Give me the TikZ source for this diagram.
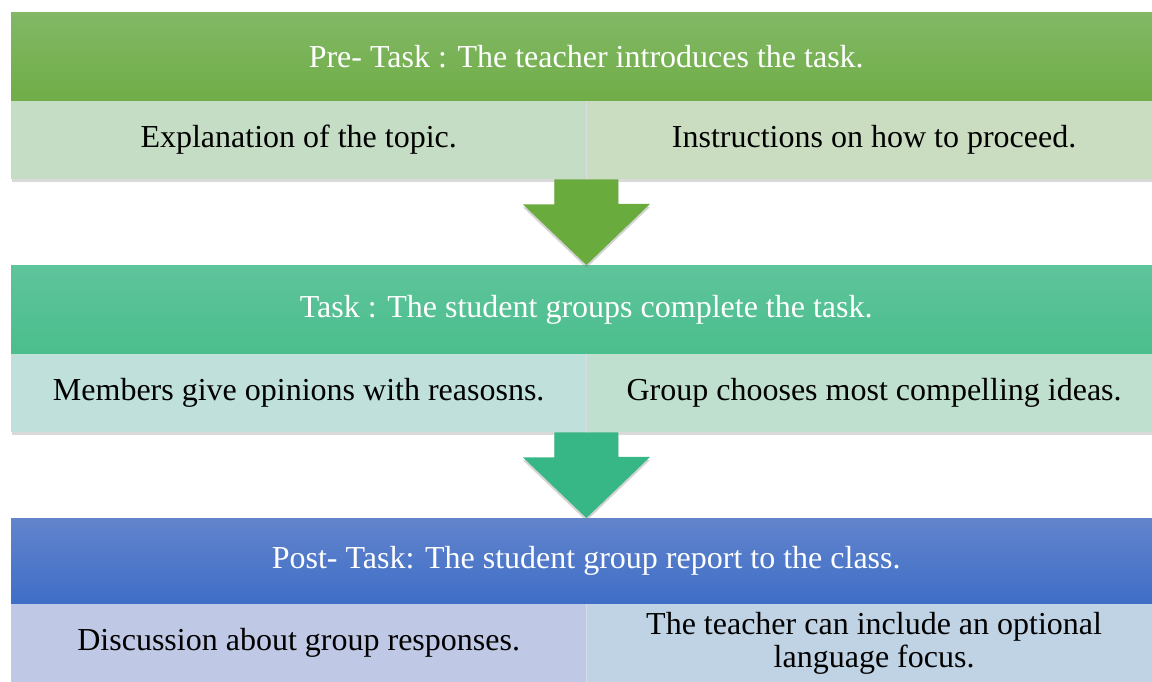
\documentclass[tikz,border=0pt]{standalone}
\usepackage{fontspec}
\setmainfont{Liberation Serif}
\usepackage{tikz}
\usetikzlibrary{positioning,shadows}
\usepackage{xcolor}
\definecolor{preTop}{HTML}{82B866}
\definecolor{preBot}{HTML}{70AD47}
\definecolor{preL}{HTML}{C5DDC4}
\definecolor{preR}{HTML}{CBDDC1}
\definecolor{preArr}{HTML}{69AB3D}
\definecolor{taskTop}{HTML}{5EC49B}
\definecolor{taskBot}{HTML}{4BBE8D}
\definecolor{taskL}{HTML}{BFE0DB}
\definecolor{taskR}{HTML}{C0E0CF}
\definecolor{taskArr}{HTML}{37B786}
\definecolor{postTop}{HTML}{6284CC}
\definecolor{postBot}{HTML}{3F6EC7}
\definecolor{postL}{HTML}{BFC8E5}
\definecolor{postR}{HTML}{C0D3E5}
\definecolor{divcol}{HTML}{D6DDE6}
\tikzset{
blk_h/.style = {rectangle, inner sep=0pt, minimum width=1150pt, minimum height=88.5pt,
  text=white, font=\fontsize{32}{36}\selectfont,
  drop shadow={shadow xshift=1pt, shadow yshift=-3pt, opacity=0.3}},% bandeau du haut
blk_c/.style = {rectangle, inner sep=0pt, minimum width=575pt, minimum height=78pt,
  text=black, align=center, font=\fontsize{32}{33}\selectfont,
  drop shadow={shadow xshift=1pt, shadow yshift=-3pt, opacity=0.3}},% case du bas
blk_a/.style = {drop shadow={shadow xshift=0pt, shadow yshift=-3pt, opacity=0.35}},% fleche
divline/.style = {draw=divcol, line width=0.8pt}
}
\begin{document}
\begin{tikzpicture}[x=1pt,y=1pt]
	\useasboundingbox (0,0) rectangle (1152,681);
	\clip (0,0) rectangle (1152,681);
	% pre-task
	\node [blk_h, anchor=north west, top color=preTop, bottom color=preBot] (pre_h) at (11,669)
	  {Pre- Task : The teacher introduces the task.};
	\node [blk_c, below right=0pt and 0pt of pre_h.south west, fill=preL] (pre_l)
	  {Explanation of the topic.};
	\node [blk_c, right=0pt of pre_l, fill=preR] (pre_r)
	  {Instructions on how to proceed.};
	\draw [divline] (pre_l.north east) -- (pre_l.south east);
	% task
	\node [blk_h, anchor=north west, top color=taskTop, bottom color=taskBot] (task_h) at (11,416)
	  {Task : The student groups complete the task.};
	\node [blk_c, below right=0pt and 0pt of task_h.south west, fill=taskL] (task_l)
	  {Members give opinions with reasosns.};
	\node [blk_c, right=0pt of task_l, fill=taskR] (task_r)
	  {Group chooses most compelling ideas.};
	\draw [divline] (task_l.north east) -- (task_l.south east);
	% post-task
	\node [blk_h, anchor=north west, minimum height=85.5pt, top color=postTop, bottom color=postBot] (post_h) at (11,163)
	  {Post- Task: The student group report to the class.};
	\node [blk_c, below right=0pt and 0pt of post_h.south west, fill=postL] (post_l)
	  {Discussion about group responses.};
	\node [blk_c, right=0pt of post_l, fill=postR] (post_r)
	  {The teacher can include an optional\\language focus.};
	\draw [divline] (post_l.north east) -- (post_l.south east);
	% arrows
	\path [blk_a, fill=preArr] ([xshift=-32pt]pre_l.south east) -- ++(0,-25) -- ++(-31.5,0)
	  -- (pre_l.south east |- task_h.north) -- ++(63.5,61) -- ++(-31.5,0)
	  -- ([xshift=32pt]pre_l.south east) -- cycle;
	\path [blk_a, fill=taskArr] ([xshift=-32pt]task_l.south east) -- ++(0,-25) -- ++(-31.5,0)
	  -- (task_l.south east |- post_h.north) -- ++(63.5,61) -- ++(-31.5,0)
	  -- ([xshift=32pt]task_l.south east) -- cycle;
\end{tikzpicture}
\end{document}
